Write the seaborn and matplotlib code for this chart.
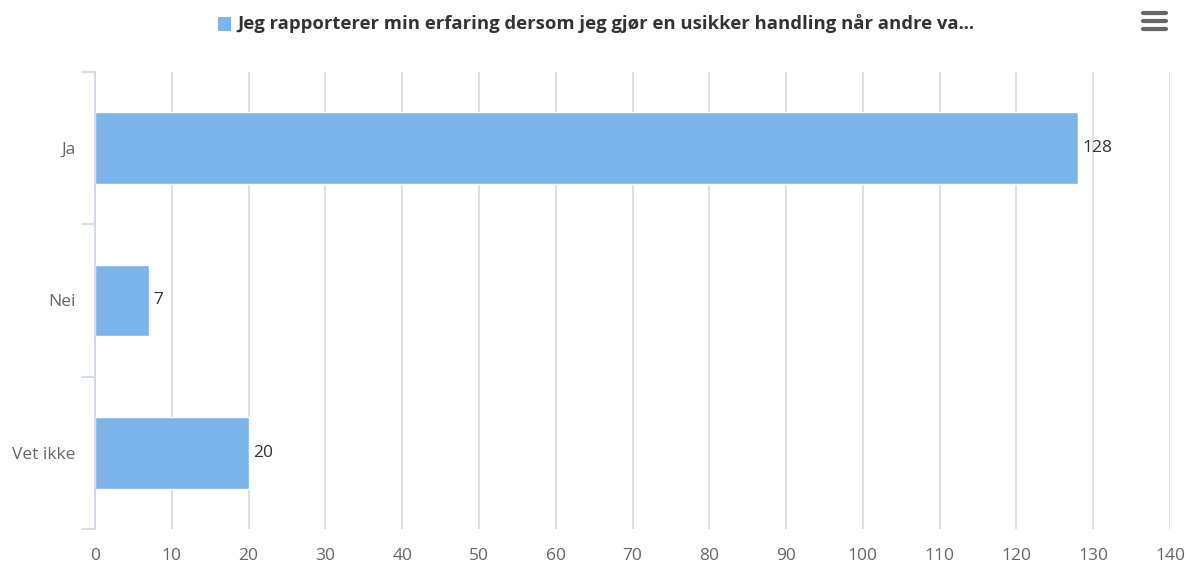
import matplotlib
matplotlib.use("Agg")
import matplotlib.pyplot as plt
import seaborn as sns
import pandas as pd
from matplotlib.lines import Line2D
from matplotlib.patches import Rectangle

categories = ["Ja", "Nei", "Vet ikke"]
values = [128, 7, 20]
series_name = "Jeg rapporterer min erfaring dersom jeg gjør en usikker handling når andre va..."
x_ticks = list(range(0, 141, 10))

sns.set_theme(style="white")
plt.rcParams['font.family'] = ['Open Sans', 'DejaVu Sans']

df = pd.DataFrame({"category": categories, "value": values})

fig = plt.figure(figsize=(11.85, 5.66), dpi=100)
ax = fig.add_axes([95/1185, 1-529/566, (1170-95)/1185, (529-72)/566])

for t in x_ticks:
    ax.axvline(t, color="#d8d8d8", lw=1.2, zorder=0)

sns.barplot(data=df, x="value", y="category", orient="h", color="#7cb5ec",
            saturation=1, width=0.47, edgecolor="white", linewidth=1, ax=ax, zorder=2)

ax.set_xlim(0, 140)
ax.set_ylim(2.5, -0.5)
ax.set_xticks(x_ticks)
ax.set_xticklabels([str(t) for t in x_ticks], fontsize=12.5, color="#666666")
ax.set_yticks(range(len(categories)))
ax.set_yticklabels(categories, fontsize=12.5, color="#666666")
ax.set_xlabel("")
ax.set_ylabel("")
ax.tick_params(axis="x", length=0, pad=14)
ax.tick_params(axis="y", length=0, pad=14)
for s in ["top", "right", "bottom"]:
    ax.spines[s].set_visible(False)
ax.spines["left"].set_color("#ccd6eb")
ax.spines["left"].set_linewidth(1.2)

# category boundary ticks
for b in [-0.5, 0.5, 1.5, 2.5]:
    ax.plot([-1.7, 0], [b, b], color="#ccd6eb", lw=1.2, clip_on=False, transform=ax.transData)

for i, v in enumerate(values):
    ax.text(v + 0.6, i, str(v), va="center", ha="left", fontsize=12.5, color="#333333")

# legend
fig.patches.append(Rectangle((218/1185, 1-31/566), 13/1185, 14/566, transform=fig.transFigure,
                             facecolor="#7cb5ec", edgecolor="none"))
fig.text(237/1185, 1-24/566, series_name, fontsize=13.3, fontweight="bold",
         color="#333333", va="center", ha="left")

# menu icon
for yy in [13, 21, 29]:
    fig.lines.append(Line2D([1143/1185, 1166/1185], [1-yy/566, 1-yy/566], transform=fig.transFigure,
                            color="#666666", lw=3, solid_capstyle="round"))

fig.savefig("out.png", dpi=100)
